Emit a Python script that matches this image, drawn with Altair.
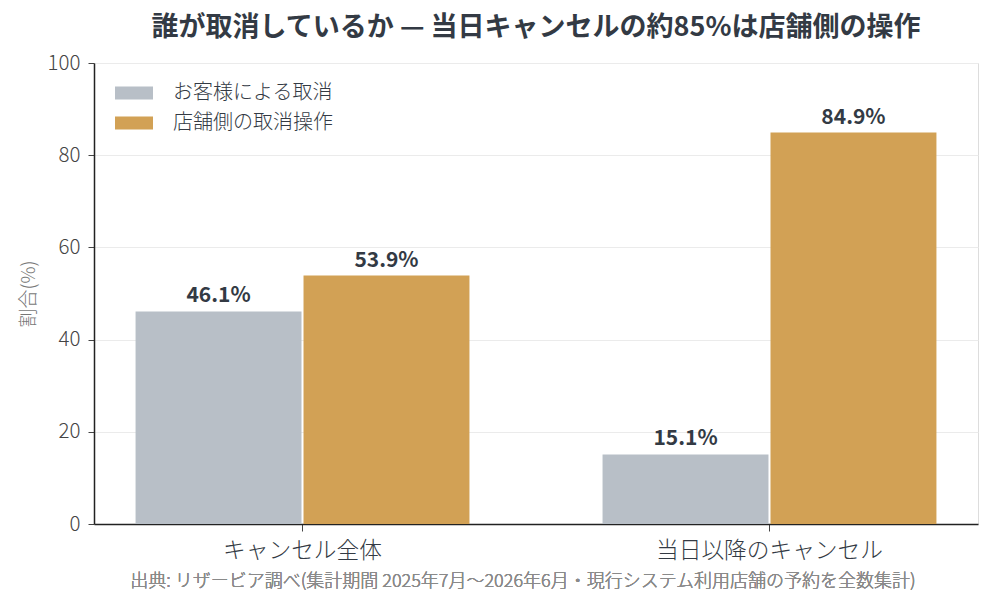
import altair as alt
import pandas as pd

# Cancellation share by who performed the cancel
categories = ["キャンセル全体", "当日以降のキャンセル"]
series = ["お客様による取消", "店舗側の取消操作"]
customer_share = [46.1, 15.1]
store_share = [53.9, 84.9]
colors = ["#b8bfc7", "#d2a155"]

rows = []
for i, cat in enumerate(categories):
    rows.append({"category": cat, "who": series[0], "share": customer_share[i]})
    rows.append({"category": cat, "who": series[1], "share": store_share[i]})
df = pd.DataFrame(rows)
df["label"] = df["share"].map(lambda v: f"{v:.1f}%")

FONT = "Noto Sans CJK JP"

x_enc = alt.X(
    "category:N",
    sort=categories,
    title=None,
    scale=alt.Scale(paddingInner=0.285, paddingOuter=0.089),
    axis=alt.Axis(
        labelAngle=0, labelFontSize=22.7, labelColor="#333a44", labelPadding=8,
        tickSize=7, tickColor="#444", domainColor="#222", domainWidth=1.5,
        labelFont=FONT, labelLimit=0, labelFontWeight=300,
    ),
)
xoff = alt.XOffset("who:N", sort=series, scale=alt.Scale(paddingInner=0.012))
y_enc = alt.Y(
    "share:Q",
    title="割合(%)",
    scale=alt.Scale(domain=[0, 100], nice=False),
    axis=alt.Axis(
        values=[0, 20, 40, 60, 80, 100], labelFontSize=20.5, labelColor="#444",
        tickSize=6, tickColor="#444", domainColor="#222", domainWidth=1.5,
        gridColor="#ebebeb", gridWidth=1, titleFontSize=19, titleColor="#777",
        titleFontWeight=300, titlePadding=9, labelPadding=8, labelFont=FONT,
        titleFont=FONT, labelFontWeight=300,
    ),
)

bars = alt.Chart(df).mark_bar().encode(
    x=x_enc,
    xOffset=xoff,
    y=y_enc,
    color=alt.Color(
        "who:N",
        sort=series,
        scale=alt.Scale(domain=series, range=colors),
        legend=alt.Legend(
            title=None, orient="none", legendX=30, legendY=20,
            symbolType="M-2,-0.68H2V0.68H-2Z", symbolSize=361,
            symbolStrokeWidth=0, labelFontSize=20, labelColor="#333a44",
            labelFont=FONT, rowPadding=10, labelOffset=29, symbolOpacity=1,
            labelFontWeight=300,
        ),
    ),
)

labels = alt.Chart(df).mark_text(
    dy=-15, fontSize=21, fontWeight="bold", color="#333a44", font=FONT
).encode(
    x=alt.X("category:N", sort=categories),
    xOffset=alt.XOffset("who:N", sort=series),
    y="share:Q",
    text="label:N",
)

source = alt.Chart(df).mark_text(
    fontSize=18, color="#8a8a8a", font=FONT, baseline="middle", fontWeight=300
).encode(
    x=alt.value(429),
    y=alt.value(519),
    text=alt.value("出典: リザービア調べ(集計期間 2025年7月〜2026年6月・現行システム利用店舗の予約を全数集計)"),
)

chart = (
    alt.layer(bars, labels, source)
    .properties(
        width=884,
        height=461,
        autosize=alt.AutoSizeParams(type="none"),
        padding={"left": 94, "top": 63, "right": 15, "bottom": 81},
        title=alt.Title(
            "誰が取消しているか — 当日キャンセルの約85%は店舗側の操作",
            fontSize=27, fontWeight="bold", color="#333a44", font=FONT,
            anchor="middle", offset=11,
        ),
    )
    .configure_view(strokeWidth=0)
    .configure_axisX(grid=False)
    .configure(background="white")
)

chart.save("out.html", embed_options={"renderer": "svg", "actions": False})
